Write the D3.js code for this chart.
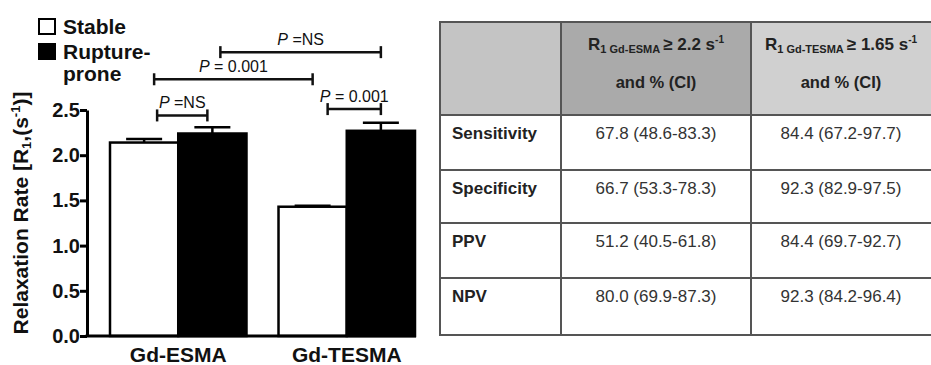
<!DOCTYPE html>
<html>
<head>
<meta charset="utf-8">
<script src="https://cdn.jsdelivr.net/npm/d3@7"></script>
<style>
  body { margin: 0; background: #fff; }
  svg { display: block; font-family: "Liberation Sans", Arial, sans-serif; }
</style>
</head>
<body>
<div id="chart"></div>
<script>
const categories = ["Gd-ESMA", "Gd-TESMA"];
const seriesNames = ["Stable", "Rupture-prone"];
const stableValues = [2.14, 1.43];
const stableErrors = [0.04, 0.01];
const ruptureValues = [2.24, 2.27];
const ruptureErrors = [0.07, 0.09];
const yTicks = [0, 0.5, 1.0, 1.5, 2.0, 2.5];

// brackets: [category, series] for each end, label and level (in y units)
const brackets = [
  { from: [0, 1], to: [1, 1], label: "NS", level: 3.14, inset: [8, 0] },
  { from: [0, 0], to: [1, 0], label: "0.001", level: 2.84, inset: [10, 0] },
  { from: [0, 0], to: [0, 1], label: "NS", level: 2.44, inset: [13, -5] },
  { from: [1, 0], to: [1, 1], label: "0.001", level: 2.51, inset: [15, 0] },
];

const rowLabels = ["Sensitivity", "Specificity", "PPV", "NPV"];
const esmaCells = ["67.8 (48.6-83.3)", "66.7 (53.3-78.3)", "51.2 (40.5-61.8)", "80.0 (69.9-87.3)"];
const tesmaCells = ["84.4 (67.2-97.7)", "92.3 (82.9-97.5)", "84.4 (69.7-92.7)", "92.3 (84.2-96.4)"];

const data = categories.map((c, i) => ({
  cat: c,
  bars: [
    { s: seriesNames[0], v: stableValues[i], e: stableErrors[i] },
    { s: seriesNames[1], v: ruptureValues[i], e: ruptureErrors[i] },
  ],
}));

const width = 931;
const height = 365;
const svg = d3.select("#chart").append("svg").attr("width", width).attr("height", height);

const x = d3.scaleBand().domain(categories).range([110, 415]).paddingInner(0.19).paddingOuter(0);
const xs = d3.scaleBand().domain(seriesNames).range([0, x.bandwidth()]);
const y = d3.scaleLinear().domain([0, 2.5]).range([336, 110]);
const color = d3.scaleOrdinal().domain(seriesNames).range(["#fff", "#000"]);

const cx = (ci, si) => x(categories[ci]) + xs(seriesNames[si]) + xs.bandwidth() / 2;

// bars
const groups = svg.append("g").selectAll("g").data(data).join("g")
  .attr("transform", (d) => `translate(${x(d.cat)},0)`);

// error bars (behind bars)
groups.selectAll(".err").data((d) => d.bars).join("g").attr("class", "err")
  .each(function (d) {
    const g = d3.select(this);
    const mx = xs(d.s) + xs.bandwidth() / 2;
    g.append("line").attr("x1", mx).attr("x2", mx).attr("y1", y(d.v)).attr("y2", y(d.v + d.e))
      .attr("stroke", "#000").attr("stroke-width", 2.5);
    g.append("line").attr("x1", mx - 18).attr("x2", mx + 18).attr("y1", y(d.v + d.e)).attr("y2", y(d.v + d.e))
      .attr("stroke", "#000").attr("stroke-width", 2.5);
  });

groups.selectAll("rect").data((d) => d.bars).join("rect")
  .attr("x", (d) => xs(d.s))
  .attr("width", xs.bandwidth())
  .attr("y", (d) => y(d.v))
  .attr("height", (d) => y(0) - y(d.v))
  .attr("fill", (d) => color(d.s))
  .attr("stroke", "#000")
  .attr("stroke-width", 2.5);

// axes
const yAxis = svg.append("g").attr("transform", "translate(87,0)")
  .call(d3.axisLeft(y).tickValues(yTicks).tickFormat(d3.format(".1f")).tickSize(7).tickSizeOuter(0));
yAxis.select(".domain").attr("stroke-width", 3);
yAxis.selectAll(".tick line").attr("stroke-width", 3);
yAxis.selectAll(".tick text").attr("font-size", 20).attr("font-weight", "bold").attr("fill", "#111")
  .attr("font-family", "Liberation Sans, Arial, sans-serif").attr("x", -7);

svg.append("line").attr("x1", 85.5).attr("x2", 416).attr("y1", y(0)).attr("y2", y(0))
  .attr("stroke", "#000").attr("stroke-width", 3);

svg.append("g").selectAll("text").data(categories).join("text")
  .attr("x", (d) => x(d) + x.bandwidth() / 2)
  .attr("y", 362)
  .attr("text-anchor", "middle")
  .attr("font-size", 21).attr("font-weight", "bold").attr("fill", "#111")
  .text((d) => d);

// y title
const yt = svg.append("text")
  .attr("transform", "translate(28,213) rotate(-90)")
  .attr("text-anchor", "middle")
  .attr("font-size", 21).attr("font-weight", "bold").attr("fill", "#111");
yt.append("tspan").text("Relaxation Rate [R");
yt.append("tspan").attr("font-size", 13).attr("baseline-shift", "-3").text("1");
yt.append("tspan").text(",(s");
yt.append("tspan").attr("font-size", 13).attr("baseline-shift", "8").text("-1");
yt.append("tspan").text(")]");

// legend
const legend = svg.append("g").selectAll("g").data(seriesNames).join("g")
  .attr("transform", (d, i) => `translate(39,${19 + i * 25})`);
legend.append("rect").attr("width", 16).attr("height", 15)
  .attr("fill", color).attr("stroke", "#000").attr("stroke-width", 2);
legend.append("text").attr("x", 24).attr("y", 15)
  .attr("font-size", 21).attr("font-weight", "bold").attr("fill", "#111")
  .each(function (d) {
    const parts = d === "Rupture-prone" ? ["Rupture-", "prone"] : [d];
    d3.select(this).selectAll("tspan").data(parts).join("tspan")
      .attr("x", 24).attr("dy", (p, i) => (i ? 22 : 0)).text((p) => p);
  });

// significance brackets
const br = svg.append("g").selectAll("g").data(brackets).join("g");
br.each(function (d) {
  const g = d3.select(this);
  const x1 = cx(d.from[0], d.from[1]) + d.inset[0];
  const x2 = cx(d.to[0], d.to[1]) + d.inset[1];
  const yy = y(d.level);
  g.append("line").attr("x1", x1).attr("x2", x2).attr("y1", yy).attr("y2", yy)
    .attr("stroke", "#111").attr("stroke-width", 2.5);
  [x1, x2].forEach((xx) =>
    g.append("line").attr("x1", xx).attr("x2", xx).attr("y1", yy - 6).attr("y2", yy + 6)
      .attr("stroke", "#111").attr("stroke-width", 2.5));
  const t = g.append("text").attr("x", (x1 + x2) / 2).attr("y", yy - 7)
    .attr("text-anchor", "middle").attr("font-size", 16).attr("fill", "#111");
  t.append("tspan").attr("font-style", "italic").text("P");
  t.append("tspan").text(d.label === "NS" ? " =NS" : " = " + d.label);
});

// table
const tx = d3.scaleOrdinal().domain([0, 1, 2, 3]).range([440, 561, 751, 931]);
const rowEdges = [22, 115, 170, 223, 278, 335];
const headFill = ["#c4c4c4", "#aaaaaa", "#d0d0d0"];
const table = svg.append("g");

table.selectAll(".hd").data(headFill).join("rect").attr("class", "hd")
  .attr("x", (d, i) => tx(i)).attr("y", rowEdges[0])
  .attr("width", (d, i) => tx(i + 1) - tx(i)).attr("height", rowEdges[1] - rowEdges[0])
  .attr("fill", (d) => d);

const headers = [
  { sub: "Gd-ESMA", val: "2.2" },
  { sub: "Gd-TESMA", val: "1.65" },
];
headers.forEach((h, i) => {
  const mid = (tx(i + 1) + tx(i + 2)) / 2;
  const t = table.append("text").attr("x", mid).attr("y", 50).attr("text-anchor", "middle")
    .attr("font-size", 17).attr("font-weight", "bold").attr("fill", "#222");
  t.append("tspan").text("R");
  t.append("tspan").attr("font-size", 11).attr("baseline-shift", "-3").text("1 " + h.sub);
  t.append("tspan").attr("dx", 3).text("\u2265 " + h.val + " s");
  t.append("tspan").attr("font-size", 10).attr("baseline-shift", "7").text("-1");
  table.append("text").attr("x", mid).attr("y", 88).attr("text-anchor", "middle")
    .attr("font-size", 16.5).attr("font-weight", "bold").attr("fill", "#222").text("and % (CI)");
});

rowLabels.forEach((r, i) => {
  const yb = rowEdges[i + 1] + 24;
  table.append("text").attr("x", 452).attr("y", yb).attr("font-size", 17).attr("font-weight", "bold")
    .attr("fill", "#222").text(r);
  [esmaCells[i], tesmaCells[i]].forEach((v, j) =>
    table.append("text").attr("x", (tx(j + 1) + tx(j + 2)) / 2).attr("y", yb).attr("text-anchor", "middle")
      .attr("font-size", 17).attr("fill", "#333").text(v));
});

// grid lines
table.selectAll(".hl").data(rowEdges).join("line").attr("class", "hl")
  .attr("x1", 440).attr("x2", 931).attr("y1", (d) => d).attr("y2", (d) => d)
  .attr("stroke", "#555").attr("stroke-width", 2);
table.selectAll(".vl").data([440, 561, 751]).join("line").attr("class", "vl")
  .attr("x1", (d) => d).attr("x2", (d) => d).attr("y1", 21).attr("y2", 336)
  .attr("stroke", "#555").attr("stroke-width", 2);
</script>
</body>
</html>
